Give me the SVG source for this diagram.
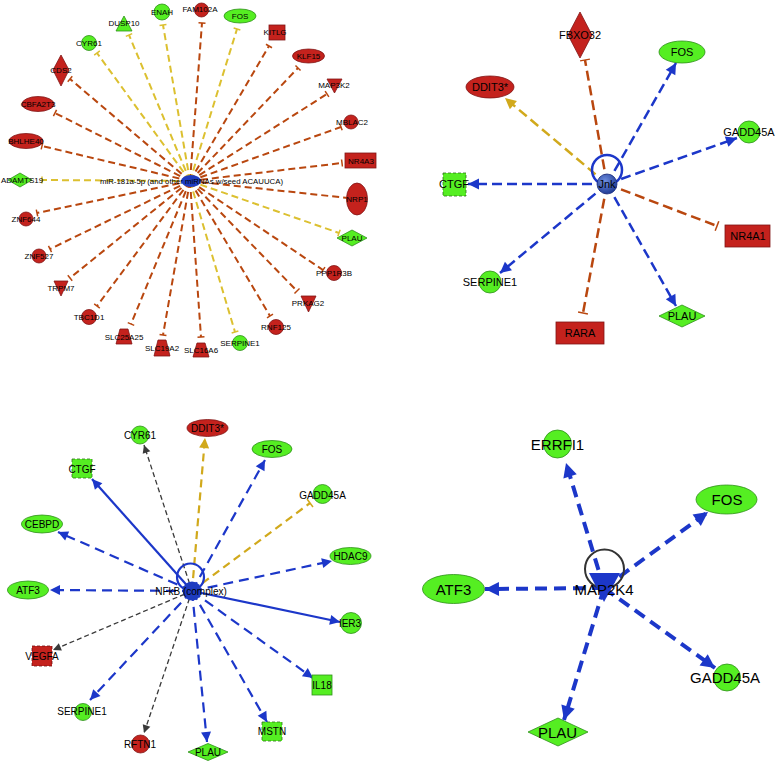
<svg xmlns="http://www.w3.org/2000/svg" width="777" height="763" viewBox="0 0 777 763">
<style>
text{font-family:"Liberation Sans",Arial,sans-serif;text-anchor:middle;dominant-baseline:central;fill:#000}
.t1{font-size:8px}.t2{font-size:11px}.t3{font-size:10px}.t4{font-size:15px}
.g{fill:#55ee22;stroke:#2f8f1a;stroke-width:0.8}
.r{fill:#c4221d;stroke:#801515;stroke-width:0.8}
.gd{fill:#55ee22;stroke:#2f6f1a;stroke-width:0.8;stroke-dasharray:3,2}
.rd{fill:#c4221d;stroke:#701010;stroke-width:0.8;stroke-dasharray:3,2}
.e{fill:none}
.r1{stroke:#b9470f;stroke-width:2;stroke-dasharray:7,4;marker-end:url(#tR1)}
.y1{stroke:#dcc030;stroke-width:2;stroke-dasharray:7,4;marker-end:url(#tY1)}
.b2{stroke:#1c37c9;stroke-width:2.5;stroke-dasharray:10,5;marker-end:url(#aB2)}
.r2{stroke:#b9470f;stroke-width:2.5;stroke-dasharray:10,5;marker-end:url(#tR2)}
.y2{stroke:#d1a91c;stroke-width:2.5;stroke-dasharray:10,5;marker-end:url(#aY2)}
.b3{stroke:#1c37c9;stroke-width:2.2;stroke-dasharray:10,6;marker-end:url(#aB3)}
.bs3{stroke:#1c37c9;stroke-width:2.2;marker-end:url(#aB3)}
.k3{stroke:#3a3a3a;stroke-width:1.3;stroke-dasharray:5,3;marker-end:url(#aK3)}
.y3{stroke:#d1a91c;stroke-width:2.2;stroke-dasharray:8,5}
.b4{stroke:#1c37c9;stroke-width:4;stroke-dasharray:12,7;marker-end:url(#aB4)}
</style>
<defs>
<marker id="tR1" viewBox="-2 -5 4 10" refX="0" refY="0" markerWidth="4" markerHeight="10" markerUnits="userSpaceOnUse" orient="auto"><path d="M0,-3.5 L0,3.5" stroke="#b9470f" stroke-width="1.5"/></marker>
<marker id="tY1" viewBox="-2 -5 4 10" refX="0" refY="0" markerWidth="4" markerHeight="10" markerUnits="userSpaceOnUse" orient="auto"><path d="M0,-3.5 L0,3.5" stroke="#dcc030" stroke-width="1.5"/></marker>
<marker id="tR2" viewBox="-2 -6 4 12" refX="0" refY="0" markerWidth="4" markerHeight="12" markerUnits="userSpaceOnUse" orient="auto"><path d="M0,-5 L0,5" stroke="#b9470f" stroke-width="1.5"/></marker>
<marker id="tY3" viewBox="-2 -6 4 12" refX="0" refY="0" markerWidth="4" markerHeight="12" markerUnits="userSpaceOnUse" orient="auto"><path d="M0,-5 L0,5" stroke="#d1a91c" stroke-width="1.5"/></marker>
<marker id="aB2" viewBox="-12 -6 12 12" refX="0" refY="0" markerWidth="12" markerHeight="12" markerUnits="userSpaceOnUse" orient="auto"><path d="M0,0 L-11,-5.5 L-11,5.5 z" fill="#1c37c9"/></marker>
<marker id="aY2" viewBox="-12 -6 12 12" refX="0" refY="0" markerWidth="12" markerHeight="12" markerUnits="userSpaceOnUse" orient="auto"><path d="M0,0 L-11,-5.5 L-11,5.5 z" fill="#d1a91c"/></marker>
<marker id="aB3" viewBox="-12 -6 12 12" refX="0" refY="0" markerWidth="12" markerHeight="12" markerUnits="userSpaceOnUse" orient="auto"><path d="M0,0 L-10,-5 L-10,5 z" fill="#1c37c9"/></marker>
<marker id="aY3" viewBox="-12 -6 12 12" refX="0" refY="0" markerWidth="12" markerHeight="12" markerUnits="userSpaceOnUse" orient="auto"><path d="M0,0 L-10,-5 L-10,5 z" fill="#d1a91c"/></marker>
<marker id="aK3" viewBox="-10 -5 10 10" refX="0" refY="0" markerWidth="10" markerHeight="10" markerUnits="userSpaceOnUse" orient="auto"><path d="M0,0 L-8,-4 L-8,4 z" fill="#3a3a3a"/></marker>
<marker id="aB4" viewBox="-15 -8 15 16" refX="0" refY="0" markerWidth="15" markerHeight="16" markerUnits="userSpaceOnUse" orient="auto"><path d="M0,0 L-14,-7 L-14,7 z" fill="#1c37c9"/></marker>
<radialGradient id="jg" cx="0.4" cy="0.35" r="0.7"><stop offset="0" stop-color="#6f8fe0"/><stop offset="1" stop-color="#1a3590"/></radialGradient>
</defs>
<rect width="777" height="763" fill="#fff"/>

<g id="connectors">
<!-- panel 1 -->
<g class="e">
<path class="r1" d="M190,181 L70,79"/>
<path class="r1" d="M190,181 L55,113"/>
<path class="r1" d="M190,181 L42,146"/>
<path class="r1" d="M190,181 L37,213"/>
<path class="r1" d="M190,181 L50,249"/>
<path class="r1" d="M190,181 L70,278"/>
<path class="r1" d="M190,181 L97,306"/>
<path class="r1" d="M190,181 L131,324"/>
<path class="r1" d="M190,181 L163,335"/>
<path class="r1" d="M190,181 L201,337"/>
<path class="r1" d="M190,181 L270,316"/>
<path class="r1" d="M190,181 L297,291"/>
<path class="r1" d="M190,181 L323,270"/>
<path class="r1" d="M190,181 L348,198"/>
<path class="r1" d="M190,181 L342,163"/>
<path class="r1" d="M190,181 L341,127"/>
<path class="r1" d="M190,181 L327,94"/>
<path class="r1" d="M190,181 L298,68"/>
<path class="r1" d="M190,181 L269,46"/>
<path class="r1" d="M190,181 L202,23"/>
<path class="y1" d="M190,181 L163,25"/>
<path class="y1" d="M190,181 L129,35"/>
<path class="y1" d="M190,181 L97,53"/>
<path class="y1" d="M190,181 L42,180"/>
<path class="y1" d="M190,181 L235,332"/>
<path class="y1" d="M190,181 L339,233"/>
<path class="y1" d="M190,181 L237,29"/>
</g>
<!-- panel 2 -->
<g class="e">
<path class="r2" d="M607,184 L585,60"/>
<path class="r2" d="M607,184 L717,226"/>
<path class="r2" d="M607,184 L583,313"/>
<path class="y2" d="M607,184 L505,98"/>
<path class="b2" d="M607,184 L676,63"/>
<path class="b2" d="M607,184 L737,138"/>
<path class="b2" d="M607,184 L468,184"/>
<path class="b2" d="M607,184 L500,273"/>
<path class="b2" d="M607,184 L676,306"/>
<circle cx="607" cy="170" r="15" stroke="#1c37c9" stroke-width="2.5"/>
</g>
<!-- panel 3 -->
<g class="e">
<path class="k3" d="M192,591 L144,445"/>
<path class="k3" d="M192,591 L53,650"/>
<path class="k3" d="M192,591 L144,733"/>
<path class="y3" style="marker-end:url(#aY3)" d="M192,591 L205,438"/>
<path class="y3" style="marker-end:url(#tY3)" d="M192,591 L310,503"/>
<path class="b3" d="M192,591 L265,460"/>
<path class="b3" d="M192,591 L332,561"/>
<path class="bs3" d="M192,591 L92,479"/>
<path class="b3" d="M192,591 L58,532"/>
<path class="b3" d="M192,591 L50,590"/>
<path class="bs3" d="M192,591 L340,622"/>
<path class="b3" d="M192,591 L313,678"/>
<path class="b3" d="M192,591 L90,700"/>
<path class="b3" d="M192,591 L207,742"/>
<path class="b3" d="M192,591 L267,722"/>
<circle cx="190.5" cy="577" r="13.5" stroke="#1c37c9" stroke-width="2.2"/>
</g>
<!-- panel 4 -->
<g class="e">
<path class="b4" d="M604,588 L566,463"/>
<path class="b4" d="M604,588 L708,512"/>
<path class="b4" d="M604,588 L485,589"/>
<path class="b4" d="M604,588 L715,668"/>
<path class="b4" d="M604,588 L564,720"/>
</g>
</g>

<!-- panel 1 nodes -->
<g id="p1-ENAH"><circle class="g" cx="162" cy="12" r="8"/><text class="t1" x="162" y="12">ENAH</text></g>
<g id="p1-DUSP10"><path class="g" d="M124,16 L132,31 L116,31 Z"/><text class="t1" x="124" y="23">DUSP10</text></g>
<g id="p1-CYR61"><circle class="g" cx="89" cy="43" r="7.5"/><text class="t1" x="89" y="43">CYR61</text></g>
<g id="p1-CDS2"><path class="r" d="M61,55 L69,70 L61,86 L53,70 Z"/><text class="t1" x="61" y="70">CDS2</text></g>
<g id="p1-CBFA2T3"><ellipse class="r" cx="38" cy="104" rx="16" ry="7.5"/><text class="t1" x="38" y="104">CBFA2T3</text></g>
<g id="p1-BHLHE40"><ellipse class="r" cx="26" cy="141" rx="17" ry="7.5"/><text class="t1" x="26" y="141">BHLHE40</text></g>
<g id="p1-ADAMTS19"><path class="g" d="M20,173 L32,180 L20,187 L8,180 Z"/><text class="t1" x="22" y="180">ADAMTS19</text></g>
<g id="p1-ZNF644"><circle class="r" cx="26" cy="219" r="7"/><text class="t1" x="26" y="219">ZNF644</text></g>
<g id="p1-ZNF527"><circle class="r" cx="39" cy="256" r="7"/><text class="t1" x="39" y="256">ZNF527</text></g>
<g id="p1-TRPM7"><path class="r" d="M54,281 L68,281 L61,296 Z"/><text class="t1" x="61" y="288">TRPM7</text></g>
<g id="p1-TBC1D1"><circle class="r" cx="89" cy="317" r="7.5"/><text class="t1" x="89" y="317">TBC1D1</text></g>
<g id="p1-SLC25A25"><path class="r" d="M120,329 L128,329 L132,344 L116,344 Z"/><text class="t1" x="124" y="337">SLC25A25</text></g>
<g id="p1-SLC19A2"><path class="r" d="M158,340 L166,340 L170,356 L154,356 Z"/><text class="t1" x="162" y="348">SLC19A2</text></g>
<g id="p1-SLC16A6"><path class="r" d="M197,343 L205,343 L209,357 L193,357 Z"/><text class="t1" x="201" y="350">SLC16A6</text></g>
<g id="p1-SERPINE1"><circle class="g" cx="240" cy="343" r="7.5"/><text class="t1" x="240" y="343">SERPINE1</text></g>
<g id="p1-RNF125"><circle class="r" cx="276" cy="327" r="7.5"/><text class="t1" x="276" y="327">RNF125</text></g>
<g id="p1-PRKAG2"><path class="r" d="M301,296 L316,296 L308.5,312 Z"/><text class="t1" x="308" y="303">PRKAG2</text></g>
<g id="p1-PPP1R3B"><circle class="r" cx="334" cy="273" r="7.5"/><text class="t1" x="334" y="273">PPP1R3B</text></g>
<g id="p1-PLAU"><path class="g" d="M352,230 L367,238 L352,246 L337,238 Z"/><text class="t1" x="352" y="238">PLAU</text></g>
<g id="p1-NRP1"><ellipse class="r" cx="357" cy="199" rx="10.5" ry="16"/><text class="t1" x="357" y="199">NRP1</text></g>
<g id="p1-NR4A3"><rect class="r" x="345" y="153" width="31" height="15"/><text class="t1" x="361" y="161">NR4A3</text></g>
<g id="p1-MBLAC2"><circle class="r" cx="351" cy="122" r="7"/><text class="t1" x="352" y="122">MBLAC2</text></g>
<g id="p1-MAP3K2"><path class="r" d="M327,79 L342,79 L334.5,93 Z"/><text class="t1" x="334" y="85">MAP3K2</text></g>
<g id="p1-KLF15"><ellipse class="r" cx="308.5" cy="56" rx="16" ry="7"/><text class="t1" x="308.5" y="56">KLF15</text></g>
<g id="p1-KITLG"><rect class="r" x="269" y="25" width="16" height="15"/><text class="t1" x="275" y="32">KITLG</text></g>
<g id="p1-FOS"><ellipse class="g" cx="240" cy="16" rx="16" ry="7"/><text class="t1" x="240" y="16">FOS</text></g>
<g id="p1-FAM102A"><circle class="r" cx="201.5" cy="10" r="7"/><text class="t1" x="200" y="9">FAM102A</text></g>
<g id="p1-miR181a"><ellipse cx="191" cy="181" rx="10" ry="6" fill="#1e3cc0"/><text class="t1" x="191.5" y="181" textLength="183" lengthAdjust="spacingAndGlyphs">miR-181a-5p (and other miRNAs w/seed ACAUUCA)</text></g>

<!-- panel 2 nodes -->
<g id="p2-FBXO32"><path class="r" d="M580,12 L592,35 L580,58 L568,35 Z"/><text class="t2" x="580" y="35">FBXO32</text></g>
<g id="p2-FOS"><ellipse class="g" cx="682" cy="52" rx="23" ry="11"/><text class="t2" x="682" y="52">FOS</text></g>
<g id="p2-DDIT3"><ellipse class="r" cx="490" cy="87" rx="24" ry="11"/><text class="t2" x="490" y="87">DDIT3*</text></g>
<g id="p2-GADD45A"><circle class="g" cx="749" cy="132" r="11"/><text class="t2" x="749" y="132">GADD45A</text></g>
<g id="p2-CTGF"><rect class="gd" x="443" y="173" width="23" height="23"/><text class="t2" x="454" y="184">CTGF</text></g>
<g id="p2-NR4A1"><rect class="r" x="725" y="225" width="45" height="22"/><text class="t2" x="748" y="236">NR4A1</text></g>
<g id="p2-SERPINE1"><circle class="g" cx="490" cy="282" r="11"/><text class="t2" x="490" y="282">SERPINE1</text></g>
<g id="p2-RARA"><rect class="r" x="556" y="322" width="48" height="22"/><text class="t2" x="580" y="333">RARA</text></g>
<g id="p2-PLAU"><path class="g" d="M682,305 L705,316 L682,327 L659,316 Z"/><text class="t2" x="682" y="316">PLAU</text></g>
<g id="p2-Jnk"><circle cx="607" cy="184" r="10" fill="url(#jg)" stroke="#1a2f80" stroke-width="0.8"/><text class="t2" x="607" y="184">Jnk</text></g>

<!-- panel 3 nodes -->
<g id="p3-CYR61"><circle class="g" cx="140" cy="435" r="9"/><text class="t3" x="140" y="435">CYR61</text></g>
<g id="p3-DDIT3"><ellipse class="r" cx="207.5" cy="428" rx="20.5" ry="8.5"/><text class="t3" x="207.5" y="428">DDIT3*</text></g>
<g id="p3-FOS"><ellipse class="g" cx="272" cy="449" rx="20" ry="8.5"/><text class="t3" x="272" y="449">FOS</text></g>
<g id="p3-GADD45A"><circle class="g" cx="322.5" cy="494" r="9.5"/><text class="t3" x="322.5" y="495">GADD45A</text></g>
<g id="p3-HDAC9"><ellipse class="g" cx="350.5" cy="556" rx="20.5" ry="8.5"/><text class="t3" x="350.5" y="556">HDAC9</text></g>
<g id="p3-CTGF"><rect class="gd" x="72" y="459" width="20" height="19"/><text class="t3" x="82" y="469">CTGF</text></g>
<g id="p3-CEBPD"><ellipse class="g" cx="42" cy="524" rx="20.5" ry="9"/><text class="t3" x="42" y="524">CEBPD</text></g>
<g id="p3-ATF3"><ellipse class="g" cx="28" cy="590" rx="20.5" ry="9"/><text class="t3" x="28" y="590">ATF3</text></g>
<g id="p3-IER3"><circle class="g" cx="351" cy="623" r="10.5"/><text class="t3" x="350" y="623">IER3</text></g>
<g id="p3-VEGFA"><rect class="rd" x="32" y="646" width="20" height="20"/><text class="t3" x="42" y="656">VEGFA</text></g>
<g id="p3-IL18"><rect class="g" x="312" y="675" width="20" height="20"/><text class="t3" x="322" y="685">IL18</text></g>
<g id="p3-SERPINE1"><circle class="g" cx="83" cy="712" r="8.5"/><text class="t3" x="82" y="711">SERPINE1</text></g>
<g id="p3-RFTN1"><circle class="r" cx="140.5" cy="744" r="9"/><text class="t3" x="140" y="744">RFTN1</text></g>
<g id="p3-PLAU"><path class="g" d="M208,743.5 L228,752 L208,760.5 L188,752 Z"/><text class="t3" x="208" y="752">PLAU</text></g>
<g id="p3-MSTN"><rect class="gd" x="262" y="722" width="20" height="19"/><text class="t3" x="272" y="731.5">MSTN</text></g>
<g id="p3-NFkB"><circle cx="192" cy="591" r="9.5" fill="#1e3cc0"/><text class="t3" x="191" y="591">NFkB (complex)</text></g>

<!-- panel 4 nodes -->
<g id="p4-ERRFI1"><circle class="g" cx="557.5" cy="444" r="14"/><text class="t4" x="557.5" y="444">ERRFI1</text></g>
<g id="p4-FOS"><ellipse class="g" cx="726.5" cy="499.5" rx="30.5" ry="14.5"/><text class="t4" x="727" y="499.5">FOS</text></g>
<g id="p4-ATF3"><ellipse class="g" cx="453.5" cy="589" rx="31" ry="14.5"/><text class="t4" x="453.5" y="589">ATF3</text></g>
<g id="p4-GADD45A"><circle class="g" cx="727" cy="677.5" r="13.5"/><text class="t4" x="725" y="677.5">GADD45A</text></g>
<g id="p4-PLAU"><path class="g" d="M558,718 L588,732 L558,746 L528,732 Z"/><text class="t4" x="557.5" y="732">PLAU</text></g>
<g id="p4-MAP2K4"><circle cx="604.5" cy="569" r="19.5" fill="none" stroke="#333" stroke-width="2"/><path d="M589,573 L620,573 L604,602 Z" fill="#1c37c9"/><text class="t4" x="604" y="589">MAP2K4</text></g>
</svg>
